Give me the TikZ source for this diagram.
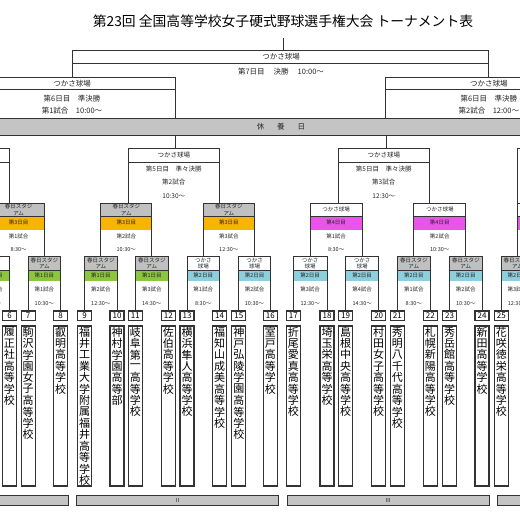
\documentclass[tikz,border=0pt]{standalone}
\usepackage{fontspec}
\newfontfamily\jp{Noto Sans CJK JP}
\definecolor{hdrgray}{HTML}{C0C0C0}
\definecolor{bargray}{HTML}{C4C4C4}
\definecolor{dgreen}{HTML}{8CC63F}
\definecolor{dorange}{HTML}{F7B500}
\definecolor{dmag}{HTML}{E855E8}
\definecolor{dblue}{HTML}{8DCFDD}
\tikzset{
  ln/.style={line width=0.9pt, draw=black!80},
  seedln/.style={line width=1.2pt, draw=black!80},
  sm/.style={font=\jp\fontsize{5.5}{6.2}\selectfont, inner sep=0pt, align=center, text=black!85},
  md/.style={font=\jp\fontsize{6.5}{7}\selectfont, inner sep=0pt, text=black!85},
  lg/.style={font=\jp\fontsize{7.5}{8}\selectfont, inner sep=0pt, text=black!85},
  num/.style={font=\jp\fontsize{8}{8}\selectfont, inner sep=0pt},
  nch/.style={font=\jp\fontsize{11}{11}\selectfont, inner sep=0pt},
  ttl/.style={font=\jp\fontsize{13.8}{14}\selectfont, inner sep=0pt},
}
% first-round box
\newcommand\roneBox[9]{%
  \fill[#4] (#2,256.7) rectangle (#3,270);
  \fill[#6] (#2,270) rectangle (#3,280.7);
  \draw[ln] (#2,270) -- (#3,270);
  \draw[ln] (#2,311) -- (#2,256.7) -- (#3,256.7) -- (#3,311);
  \node[sm] (#1h) at ({(#2+#3)/2},263.4) {#5};
  \node[sm] (#1d) at ({(#2+#3)/2},275.4) {#7};
  \node[sm] (#1g) at ({(#2+#3)/2},289.3) {#8};
  \node[sm] (#1t) at ({(#2+#3)/2},303.3) {#9};
}
% second-round box
\newcommand\rtwoBox[9]{%
  \fill[#4] (#2,203.3) rectangle (#3,216);
  \fill[#6] (#2,216) rectangle (#3,229.5);
  \draw[ln] (#2,216) -- (#3,216);
  \draw[ln] (#2,256.7) -- (#2,203.3) -- (#3,203.3) -- (#3,256.7);
  \node[sm] (#1h) at ({(#2+#3)/2},209.7) {#5};
  \node[sm] (#1d) at ({(#2+#3)/2},222.7) {#7};
  \node[sm] (#1g) at ({(#2+#3)/2},236.2) {#8};
  \node[sm] (#1t) at ({(#2+#3)/2},250) {#9};
}
% quarter-final box
\newcommand\qfBox[5]{%
  \draw[ln] (#2,203.3) -- (#2,148.3) -- (#3,148.3) -- (#3,203.3);
  \draw[ln] (#2,162.3) -- (#3,162.3);
  \node[md] (#1h) at ({(#2+#3)/2},155.3) {つかさ球場};
  \node[md] (#1r) at ({(#2+#3)/2},168.8) {第5日目　準々決勝};
  \node[md] (#1g) at ({(#2+#3)/2},182.3) {#4};
  \node[md] (#1t) at ({(#2+#3)/2},195.7) {#5};
}
% semi-final box
\newcommand\sfBox[4]{%
  \draw[ln] (#2,118) -- (#2,77.3) -- (#3,77.3) -- (#3,118);
  \draw[ln] (#2,89.3) -- (#3,89.3);
  \node[lg] (#1h) at ({(#2+#3)/2},83.3) {つかさ球場};
  \node[lg] (#1r) at ({(#2+#3)/2},98.7) {第6日目　準決勝};
  \node[lg] (#1g) at ({(#2+#3)/2},110.3) {#4};
}
% team
\newcommand\seed[4]{%
  \draw[seedln] ({#2-7},311) rectangle ({#2+7},320.7);
  \node[num] (#1n) at (#2,316) {#3};
  \draw[seedln] ({#2-7},326) rectangle ({#2+7},486);
  \foreach \c [count=\i from 0] in {#4} \node[nch] (#1c\i) at (#2,{332+11.4*\i}) {\c};
}
\begin{document}
\begin{tikzpicture}[x=1pt,y=-1pt]
\useasboundingbox (0,0) rectangle (520,520);
\clip (0,0) rectangle (520,520);
\fill[white] (0,0) rectangle (520,520);

\node[ttl] (title) at (283,21) {第23回 全国高等学校女子硬式野球選手権大会 トーナメント表};

% final
\draw[ln] (283,38) -- (283,50.7);
\draw[ln] (72.3,77.3) -- (72.3,50.7) -- (488.7,50.7) -- (488.7,77.3);
\draw[ln] (72.3,63.3) -- (488.7,63.3);
\node[lg] (fh) at (281,57) {つかさ球場};
\node[lg] (fd) at (281,71.7) {第7日目\hspace{1.2em}決勝\hspace{1.2em}10:00～};

% semi-finals
\sfBox{sfa}{-31}{175}{第1試合　10:00～}
\sfBox{sfb}{385.7}{592}{第2試合　12:00～}

% rest day bar
\draw[ln, fill=bargray] (-5,118) rectangle (525,135);
\node[lg] (rest) at (281,126.5) {休\hspace{13pt}養\hspace{13pt}日};
\draw[ln] (175,135) -- (175,148.3);
\draw[ln] (386,135) -- (386,148.3);

% quarter-finals (the outer ones are cut by the frame)
\draw[ln] (-82,148.3) -- (9,148.3) -- (9,203.3);
\draw[ln] (-82,162.3) -- (9,162.3);
\qfBox{qfb}{128.3}{219.3}{第2試合}{10:30～}
\qfBox{qfc}{338.3}{429.3}{第3試合}{12:30～}
\draw[ln] (517.5,203.3) -- (517.5,148.3) -- (525,148.3);

% second round
\rtwoBox{r2a}{-7}{44.3}{hdrgray}{春日スタジ\\アム}{dorange}{第3日目}{第1試合}{8:30～}
\rtwoBox{r2b}{100.8}{151.8}{hdrgray}{春日スタジ\\アム}{dorange}{第3日目}{第2試合}{10:30～}
\rtwoBox{r2c}{203.2}{254.5}{hdrgray}{春日スタジ\\アム}{dorange}{第3日目}{第3試合}{12:30～}
\rtwoBox{r2d}{310.2}{362.2}{white}{つかさ球場}{dmag}{第4日目}{第1試合}{8:30～}
\rtwoBox{r2e}{413.8}{465.7}{white}{つかさ球場}{dmag}{第4日目}{第2試合}{10:30～}
\fill[dmag] (517.5,216) rectangle (525,229.5);
\draw[ln] (517.5,216) -- (525,216);
\draw[ln] (517.5,256.7) -- (517.5,203.3) -- (525,203.3);

% first round
\roneBox{r1a}{-23.6}{9.5}{white}{つかさ\\球場}{dgreen}{第1日目}{第1試合}{8:30～}
\roneBox{r1b}{28.2}{60.5}{hdrgray}{春日スタジ\\アム}{dgreen}{第1日目}{第1試合}{10:30～}
\roneBox{r1c}{84.7}{117}{hdrgray}{春日スタジ\\アム}{dgreen}{第1日目}{第2試合}{12:30～}
\roneBox{r1d}{135.3}{168.3}{hdrgray}{春日スタジ\\アム}{dgreen}{第1日目}{第3試合}{14:30～}
\roneBox{r1e}{187}{219.5}{white}{つかさ\\球場}{dblue}{第2日目}{第1試合}{8:30～}
\roneBox{r1f}{238.8}{270.3}{white}{つかさ\\球場}{dblue}{第2日目}{第2試合}{10:30～}
\roneBox{r1g}{293.3}{327}{white}{つかさ\\球場}{dblue}{第2日目}{第3試合}{12:30～}
\roneBox{r1h}{345.7}{378.7}{white}{つかさ\\球場}{dblue}{第2日目}{第4試合}{14:30～}
\roneBox{r1i}{397.3}{430.3}{hdrgray}{春日スタジ\\アム}{dblue}{第2日目}{第1試合}{8:30～}
\roneBox{r1j}{449.5}{482}{hdrgray}{春日スタジ\\アム}{dblue}{第2日目}{第2試合}{10:30～}
\roneBox{r1k}{501.3}{533.6}{hdrgray}{春日スタジ\\アム}{dblue}{第2日目}{第3試合}{12:30～}

% teams
\seed{s6}{9.5}{6}{履,正,社,高,等,学,校}
\seed{s7}{28.2}{7}{駒,沢,学,園,女,子,高,等,学,校}
\seed{s8}{60.5}{8}{叡,明,高,等,学,校}
\seed{s9}{84.7}{9}{福,井,工,業,大,学,附,属,福,井,高,等,学,校}
\seed{s10}{117}{10}{神,村,学,園,高,等,部}
\seed{s11}{135.3}{11}{岐,阜,第,一,高,等,学,校}
\seed{s12}{168.3}{12}{佐,伯,高,等,学,校}
\seed{s13}{187}{13}{横,浜,隼,人,高,等,学,校}
\seed{s14}{219.5}{14}{福,知,山,成,美,高,等,学,校}
\seed{s15}{238.8}{15}{神,戸,弘,陵,学,園,高,等,学,校}
\seed{s16}{270.3}{16}{室,戸,高,等,学,校}
\seed{s17}{293.3}{17}{折,尾,愛,真,高,等,学,校}
\seed{s18}{327}{18}{埼,玉,栄,高,等,学,校}
\seed{s19}{345.7}{19}{島,根,中,央,高,等,学,校}
\seed{s20}{378.7}{20}{村,田,女,子,高,等,学,校}
\seed{s21}{397.3}{21}{秀,明,八,千,代,高,等,学,校}
\seed{s22}{430.3}{22}{札,幌,新,陽,高,等,学,校}
\seed{s23}{449.5}{23}{秀,岳,館,高,等,学,校}
\seed{s24}{482}{24}{新,田,高,等,学,校}
\seed{s25}{501.3}{25}{花,咲,徳,栄,高,等,学,校}

% group bars
\draw[ln, fill=bargray] (-5,495) rectangle (68.3,505.7);
\draw[ln, fill=bargray] (76.7,495) rectangle (278.3,505.7);
\draw[ln, fill=bargray] (287.3,495) rectangle (489,505.7);
\draw[ln, fill=bargray] (497.3,495) rectangle (525,505.7);
\node[sm] (g2) at (177.5,500.4) {Ⅱ};
\node[sm] (g3) at (388.2,500.4) {Ⅲ};
\end{tikzpicture}
\end{document}
